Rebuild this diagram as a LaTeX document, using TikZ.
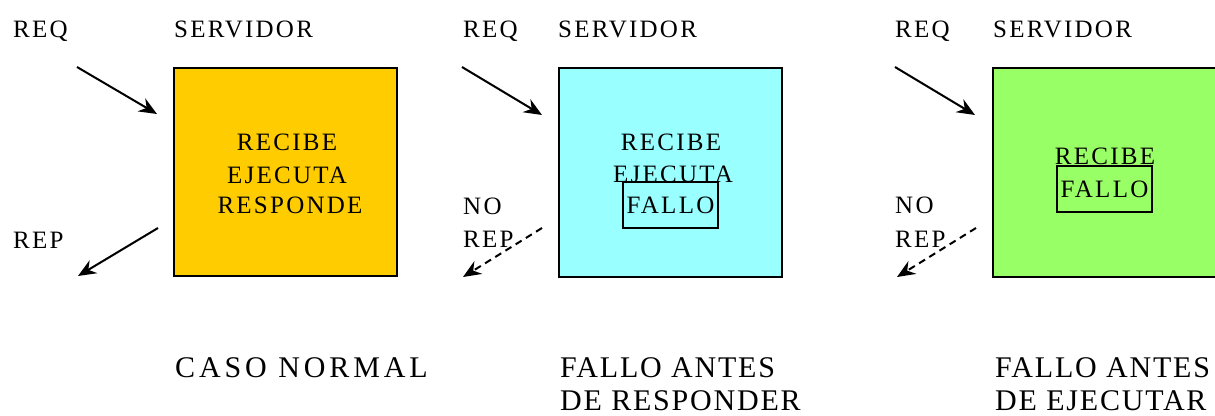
\documentclass[tikz,border=0pt]{standalone}
\usepackage{fontspec}
\setmainfont{Liberation Serif}[LetterSpace=9]
\newfontfamily\capfont{Liberation Serif}[LetterSpace=6]
\newfontfamily\capfontw{Liberation Serif}[LetterSpace=13]
\usetikzlibrary{arrows.meta}
\definecolor{cOrange}{HTML}{FFCC00}
\definecolor{cCyan}{HTML}{99FFFF}
\definecolor{cGreen}{HTML}{99FF66}
\begin{document}
\begin{tikzpicture}[x=1pt,y=-1pt,
  lbl/.style={anchor=base west, inner sep=0pt, font=\fontsize{25}{30}\selectfont},
  big/.style={anchor=base west, inner sep=0pt, font=\capfont\fontsize{30}{35}\selectfont},
  bigw/.style={anchor=base west, inner sep=0pt, font=\capfontw\fontsize{30}{35}\selectfont},
  server/.style={draw=black, line width=2pt, inner sep=0pt},
  fallo/.style={draw=black, line width=2pt, inner sep=0pt, minimum width=95pt, minimum height=46pt, font=\fontsize{25}{30}\selectfont},
  intext/.style={anchor=base, inner sep=0pt, font=\fontsize{25}{30}\selectfont},
  msg/.style={line width=2pt, -{Stealth[length=18pt,width=15pt,inset=6pt]}},
  lost/.style={msg, dash pattern=on 7pt off 5pt}]
\clip (0,0) rectangle (1215,415);
% ---------- panel 1 ----------
\node[server, fill=cOrange, minimum width=223pt, minimum height=208pt] (s1) at (285.5,172) {};
\node[intext] (t1a) at (287,150) {RECIBE};
\node[intext] (t1b) at (287,183) {EJECUTA};
\node[intext] (t1c) at (290,213) {RESPONDE};
\node[lbl] (req1) at (13,37) {REQ};
\node[lbl] (srv1) at (174,37) {SERVIDOR};
\node[lbl] (rep1) at (13,248) {REP};
\coordinate (a1s) at (77,67);  \coordinate (a1e) at (157,114);
\coordinate (b1s) at (158,228); \coordinate (b1e) at (78,276);
\draw[msg] (a1s) -- (a1e);
\draw[msg] (b1s) -- (b1e);
\node[bigw] (cap1) at (175,377) {CASO NORMAL};
% ---------- panel 2 ----------
\node[server, fill=cCyan, minimum width=223pt, minimum height=209pt] (s2) at (670.5,172.5) {};
\node[intext] (t2a) at (671,150) {RECIBE};
\node[intext] (t2b) at (673,182) {EJECUTA};
\node[fallo] (f2) at (670.5,205) {FALLO};
\node[lbl] (req2) at (463,37) {REQ};
\node[lbl] (srv2) at (558,37) {SERVIDOR};
\node[lbl] (no2) at (463,214) {NO};
\node[lbl] (rep2) at (463,247) {REP};
\coordinate (a2s) at (462,67);  \coordinate (a2e) at (542,115);
\coordinate (b2s) at (542,228); \coordinate (b2e) at (463,277);
\draw[msg] (a2s) -- (a2e);
\draw[lost] (b2s) -- (b2e);
\node[big] (cap2a) at (560,377) {FALLO ANTES};
\node[big] (cap2b) at (560,410) {DE RESPONDER};
% ---------- panel 3 ----------
\node[server, fill=cGreen, minimum width=240pt, minimum height=209pt] (s3) at (1113,172.5) {};
\node[intext] (t3a) at (1105,164) {RECIBE};
\node[fallo] (f3) at (1104.5,189) {FALLO};
\node[lbl] (req3) at (895,37) {REQ};
\node[lbl] (srv3) at (993,37) {SERVIDOR};
\node[lbl] (no3) at (895,213) {NO};
\node[lbl] (rep3) at (895,247) {REP};
\coordinate (a3s) at (895,67);  \coordinate (a3e) at (975,115);
\coordinate (b3s) at (976,228); \coordinate (b3e) at (897,277);
\draw[msg] (a3s) -- (a3e);
\draw[lost] (b3s) -- (b3e);
\node[big] (cap3a) at (995,377) {FALLO ANTES};
\node[big] (cap3b) at (995,410) {DE EJECUTAR};
\end{tikzpicture}
\end{document}
